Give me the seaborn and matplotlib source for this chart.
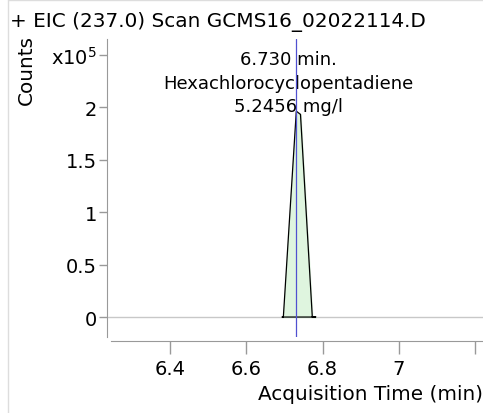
import numpy as np
import pandas as pd
import matplotlib
matplotlib.use('Agg')
import matplotlib.pyplot as plt
import seaborn as sns
from matplotlib.lines import Line2D

sns.set_style('white')
plt.rcParams['font.family'] = ['DejaVu Sans']
plt.rcParams['text.color'] = 'black'
plt.rcParams['axes.labelcolor'] = 'black'

# peak outline (time in min, counts)
peak_time = [6.694, 6.697, 6.731, 6.742, 6.773, 6.782]
peak_counts = [0, 0, 196000, 193000, 0, 0]
rt = 6.730
title = '+ EIC (237.0) Scan GCMS16_02022114.D'
label_lines = ['6.730 min.', 'Hexachlorocyclopentadiene', '5.2456 mg/l']
x_ticks = [6.4, 6.6, 6.8, 7.0, 7.2]
x_ticklabels = ['6.4', '6.6', '6.8', '7', '']
y_ticks = [0, 50000, 100000, 150000, 200000, 250000]
y_ticklabels = ['0', '0.5', '1', '1.5', '2', 'x10$^5$']

df = pd.DataFrame({'time': peak_time + [peak_time[0]],
                   'counts': peak_counts + [peak_counts[0]]})

W, H = 483, 414
fig = plt.figure(figsize=(W / 100, H / 100), dpi=100)
ax = fig.add_axes([108 / W, 1 - 338 / H, (W - 108) / W, 298 / H])

ax.set_xlim(6.2368, 7.221)
ax.set_ylim(-19000, 264800)

ax.axhline(0, color='#c8c8c8', lw=1, zorder=1)
ax.fill_between(peak_time, peak_counts, color='#dff5df', zorder=2)
sns.lineplot(data=df, x='time', y='counts', sort=False, estimator=None,
             color='black', lw=0.9, ax=ax, zorder=3)
ax.axvline(rt, color='#5050d0', lw=0.9, zorder=4)

ax.text(6.71, 192000, '\n'.join(label_lines), ha='center', va='bottom',
        fontsize=13, linespacing=1.4)

ax.set_xticks(x_ticks)
ax.set_xticklabels(x_ticklabels)
ax.set_yticks(y_ticks)
ax.set_yticklabels(y_ticklabels)
ax.tick_params(axis='both', labelsize=14, colors='#999999', labelcolor='black',
               direction='out', bottom=True, left=True)
ax.tick_params(axis='y', length=6, width=1, pad=1)
ax.tick_params(axis='x', length=9, width=1, pad=4)
ax.set_xlabel('Acquisition Time (min)', fontsize=14.4, loc='right', labelpad=4)
ax.set_ylabel('')

for s in ['top', 'right']:
    ax.spines[s].set_visible(False)
ax.spines['left'].set_color('#999999')
ax.spines['bottom'].set_color('#999999')
ax.spines['left'].set_position(('outward', 1))
ax.spines['bottom'].set_position(('outward', 3))
ax.spines['bottom'].set_bounds(6.245, 7.221)

fig.text(10 / W, 1 - 22 / H, title, fontsize=14.4, ha='left', va='center')
fig.text(26 / W, 1 - 70 / H, 'Counts', fontsize=14.4, rotation=90,
         ha='center', va='center')

fig.add_artist(Line2D([8 / W, 8 / W], [0, 1 - 1 / H], color='#dddddd', lw=1))
fig.add_artist(Line2D([8 / W, 1], [1 - 1 / H, 1 - 1 / H], color='#dddddd', lw=1))

fig.savefig('out.png', dpi=100)
